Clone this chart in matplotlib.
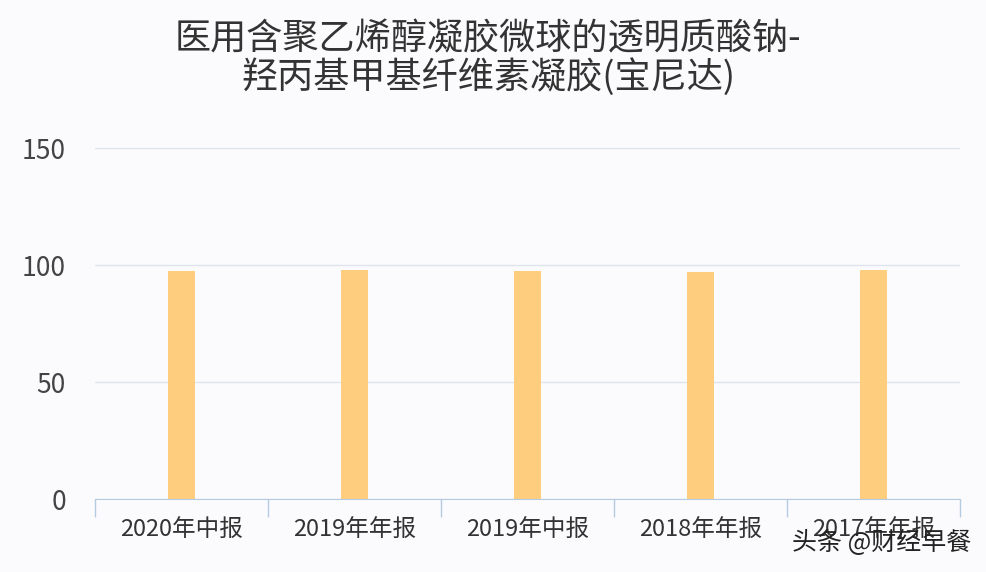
import matplotlib.pyplot as plt
import numpy as np

plt.rcParams['font.family'] = ['Noto Sans CJK SC', 'DejaVu Sans']

periods = ['2020年中报', '2019年年报', '2019年中报', '2018年年报', '2017年年报']
values = [97.6, 97.7, 97.6, 96.9, 97.7]
title = '医用含聚乙烯醇凝胶微球的透明质酸钠-\n羟丙基甲基纤维素凝胶(宝尼达)'

fig = plt.figure(figsize=(9.86, 5.72), dpi=100, facecolor='#fbfbfd')
ax = fig.add_axes([0.0963, 0.1276, 0.8773, 0.6134])
ax.set_facecolor('#fbfbfd')

x = np.arange(len(periods))
ax.bar(x, values, width=0.16, color='#fecd7e', zorder=3)

ax.set_ylim(0, 150)
ax.set_yticks([0, 50, 100, 150])
ax.set_xlim(-0.5, len(periods) - 0.5)
ax.set_xticks(x)
ax.set_xticklabels(periods)
ax.set_xticks(np.arange(-0.5, len(periods)), minor=True)

ax.grid(axis='y', color='#dfe4ec', linewidth=1, zorder=0)
for side in ['top', 'right', 'left']:
    ax.spines[side].set_visible(False)
ax.spines['bottom'].set_color('#b4cbe3')
ax.spines['bottom'].set_zorder(4)

ax.tick_params(axis='y', length=0, pad=21, labelsize=19, labelcolor='#444444')
ax.tick_params(axis='x', which='major', length=0, pad=14, labelsize=17, labelcolor='#333333')
ax.tick_params(axis='x', which='minor', length=13, color='#b4cbe3', width=1)

fig.text(0.495, 0.962, title, ha='center', va='top', fontsize=26, color='#333333',
         linespacing=1.0)

# 水印
fig.text(0.985, 0.05, '头条 @财经早餐', ha='right', va='center', fontsize=18,
         color='#222222')

fig.savefig('out.png', dpi=100, facecolor=fig.get_facecolor())
